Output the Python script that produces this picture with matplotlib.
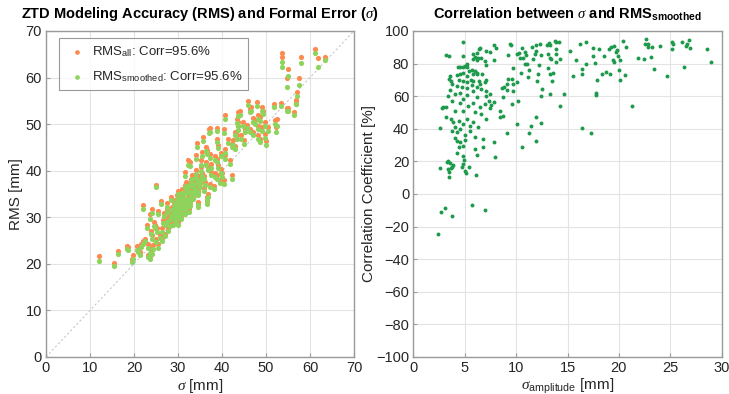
import numpy as np
import matplotlib
matplotlib.use('Agg')
import matplotlib.pyplot as plt

plt.rcParams['font.family'] = ['Liberation Sans', 'DejaVu Sans']
plt.rcParams['mathtext.fontset'] = 'custom'
plt.rcParams['mathtext.rm'] = 'Liberation Sans'
plt.rcParams['mathtext.it'] = 'Liberation Serif:italic'
plt.rcParams['mathtext.bf'] = 'Liberation Sans:bold'

# left panel: formal error sigma vs RMS (all / smoothed), mm
sigma = [12.1, 15.5, 16.4, 18.3, 18.6, 19.6, 19.8, 20.6, 20.8, 21.3, 21.7, 22.1, 22.1, 22.5, 22.9,
         23.2, 23.2, 23.6, 23.6, 23.6, 23.8, 24.0, 24.0, 24.0, 24.4, 24.6, 24.8, 25.1, 25.1, 25.3,
         25.5, 25.5, 25.9, 26.1, 26.3, 26.3, 26.6, 27.0, 27.0, 27.4, 27.4, 27.8, 28.0, 28.2, 28.5,
         28.5, 28.8, 28.9, 29.2, 29.3, 29.3, 29.6, 29.7, 29.8, 30.1, 30.1, 30.1, 30.3, 30.5, 30.6,
         30.8, 30.9, 31.0, 31.2, 31.3, 31.5, 31.6, 31.8, 31.9, 31.9, 32.0, 32.1, 32.3, 32.4, 32.6,
         32.7, 32.7, 32.7, 32.9, 33.1, 33.1, 33.3, 33.5, 33.8, 33.9, 34.0, 34.2, 34.3, 34.4, 34.5,
         34.6, 34.6, 34.6, 34.8, 35.0, 35.2, 35.3, 35.4, 35.7, 36.1, 36.3, 36.3, 36.5, 36.7, 36.7,
         36.9, 36.9, 37.0, 37.2, 37.2, 37.3, 37.6, 37.6, 38.2, 38.4, 38.4, 38.8, 38.8, 38.8, 38.8,
         39.1, 39.1, 39.5, 39.7, 39.7, 40.0, 40.5, 40.5, 40.6, 40.6, 40.6, 41.4, 41.8, 42.2, 42.2,
         42.5, 42.9, 42.9, 43.3, 43.3, 43.7, 43.7, 43.7, 44.1, 44.4, 44.8, 45.0, 45.2, 45.6, 45.9,
         46.3, 46.3, 46.7, 47.1, 47.1, 47.5, 47.9, 48.1, 48.1, 48.2, 48.6, 48.6, 49.0, 49.1, 49.4,
         49.7, 49.7, 50.1, 50.5, 51.9, 52.0, 52.2, 52.4, 53.5, 53.6, 53.6, 54.7, 54.7, 55.0, 55.1,
         56.4, 56.8, 56.9, 57.0, 57.5, 57.9, 61.1, 61.8, 63.4,
         28.3, 28.6, 28.9, 29.1, 29.4, 29.5, 29.9, 30.0, 30.2, 30.4, 30.7, 30.9, 31.1, 31.4, 31.6,
         31.7, 32.2, 32.5, 32.8, 33.0, 33.2, 33.6, 33.7, 34.1, 34.9, 35.5, 35.8, 36.0, 26.9, 27.6]
rms_all = [21.7, 20.2, 22.8, 23.8, 23.6, 21.0, 21.8, 23.8, 23.3, 22.5, 24.3, 32.6, 25.0, 25.4, 28.3,
           24.3, 22.0, 30.8, 23.4, 21.6, 27.0, 31.7, 26.1, 22.9, 24.0, 29.0, 28.3, 36.9, 25.4, 27.6,
           31.3, 24.2, 26.1, 33.4, 27.6, 25.6, 29.5, 28.8, 26.5, 31.8, 29.7, 27.6, 30.2, 28.8, 34.3,
           30.4, 31.8, 29.0, 33.0, 32.6, 30.1, 31.5, 34.8, 30.6, 35.6, 31.1, 29.0, 33.0, 32.0, 30.2,
           32.6, 34.2, 31.2, 35.1, 33.5, 32.3, 39.8, 34.0, 35.8, 37.6, 32.8, 36.5, 42.2, 34.5, 31.8,
           36.1, 33.6, 41.9, 35.2, 35.4, 39.0, 37.0, 34.5, 36.8, 36.5, 40.1, 43.3, 46.0, 38.0, 33.0,
           35.4, 33.3, 36.1, 38.8, 38.3, 42.2, 40.8, 44.1, 47.2, 37.6, 41.9, 45.1, 44.4, 34.3, 33.4,
           40.8, 35.1, 49.0, 37.2, 43.6, 49.2, 41.5, 39.7, 36.8, 43.2, 39.4, 42.6, 49.2, 46.9, 39.0,
           45.6, 41.2, 38.0, 43.9, 40.3, 39.4, 48.9, 37.9, 52.0, 44.7, 43.4, 46.9, 42.2, 45.8, 39.0,
           46.5, 48.4, 45.4, 51.0, 47.6, 52.6, 49.6, 50.4, 52.9, 47.7, 50.4, 46.5, 49.0, 49.9, 54.9,
           53.3, 49.0, 53.6, 51.3, 48.3, 50.8, 54.7, 52.0, 47.6, 49.7, 51.5, 46.9, 53.6, 49.4, 52.9,
           50.4, 47.9, 46.3, 49.4, 54.4, 50.8, 49.3, 51.2, 54.6, 65.2, 64.4, 59.9, 53.4, 53.4, 61.8,
           52.6, 55.0, 55.1, 57.0, 59.8, 64.4, 66.1, 64.2, 64.4,
           31.0, 32.2, 30.7, 31.6, 33.8, 29.5, 32.3, 33.7, 30.9, 34.6, 31.5, 36.0, 33.2, 34.9, 31.3,
           36.9, 34.0, 37.4, 33.0, 38.3, 36.2, 37.7, 35.5, 39.2, 37.3, 39.5, 36.2, 38.9, 31.0, 33.0]
rms_smoothed = [20.6, 19.6, 22.1, 23.1, 22.9, 20.4, 21.0, 23.0, 22.6, 22.0, 23.6, 31.7, 24.2, 24.8, 27.7,
                23.5, 21.5, 29.7, 22.4, 21.1, 26.3, 30.9, 25.4, 22.2, 23.2, 28.2, 27.6, 36.5, 24.7, 26.8,
                30.6, 23.5, 25.5, 32.8, 26.8, 25.0, 28.8, 28.3, 25.9, 31.1, 29.0, 27.0, 29.4, 28.2, 33.6,
                29.7, 31.1, 28.4, 32.4, 31.8, 29.6, 30.9, 34.0, 30.0, 34.9, 30.6, 28.4, 32.4, 31.4, 29.7,
                32.0, 33.6, 30.7, 34.5, 32.9, 31.8, 38.9, 33.4, 35.2, 36.8, 32.2, 35.8, 41.3, 33.9, 31.2,
                35.4, 33.0, 41.1, 34.6, 34.8, 38.3, 36.4, 33.9, 36.1, 35.8, 39.3, 42.5, 45.0, 37.3, 32.2,
                34.7, 32.7, 35.5, 38.0, 37.6, 41.3, 40.0, 43.2, 46.3, 36.9, 41.2, 44.2, 43.6, 33.6, 32.9,
                40.1, 34.4, 48.1, 36.5, 42.8, 48.3, 40.6, 39.0, 36.1, 42.4, 38.6, 41.8, 48.5, 46.1, 38.3,
                44.8, 40.5, 37.3, 43.1, 39.5, 38.7, 48.0, 37.2, 51.2, 43.9, 42.6, 46.0, 41.5, 45.0, 38.3,
                45.6, 47.6, 44.6, 50.2, 46.8, 51.7, 48.8, 49.7, 52.0, 46.9, 49.6, 45.7, 48.3, 49.1, 54.1,
                52.5, 48.2, 52.9, 50.5, 47.6, 50.0, 53.9, 51.2, 46.8, 48.9, 50.7, 46.2, 52.8, 48.6, 52.1,
                49.7, 47.1, 45.6, 48.6, 53.6, 50.1, 48.4, 49.5, 53.8, 63.3, 62.2, 58.0, 52.8, 52.9, 60.3,
                51.9, 54.3, 54.4, 56.0, 58.5, 63.1, 65.3, 62.3, 63.8,
                30.3, 31.5, 30.0, 30.9, 33.0, 28.9, 31.6, 33.0, 30.3, 33.9, 30.8, 35.3, 32.6, 34.2, 30.8,
                36.2, 33.3, 36.7, 32.4, 37.6, 35.5, 37.0, 34.9, 38.5, 36.6, 38.8, 35.6, 38.2, 30.2, 32.3]

# right panel: sigma amplitude [mm] vs correlation coefficient [%]
sig_amp = [2.36, 2.65, 3.07, 3.72, 5.73, 6.96,
           4.85, 3.17, 3.43, 4.85, 5.76, 6.15, 6.4, 6.5, 6.0, 6.3, 6.6, 5.76, 6.15, 7.05, 7.5, 7.8,
           8.0, 7.8, 6.96, 7.05, 4.3, 4.5, 4.8, 5.0, 5.2, 5.2, 5.4, 5.7, 6.0, 5.8, 6.15, 6.2, 4.85,
           4.5, 4.2, 5.2, 3.6, 3.5, 3.8, 3.7, 4.4, 4.85, 5.2, 5.6, 5.8, 6.4, 6.5, 6.96, 7.1, 6.7,
           4.2, 4.7, 5.2, 5.7, 6.15, 6.6, 7.1, 7.05, 7.5, 7.4, 7.8, 7.6, 7.5, 3.6, 3.4, 4.05, 4.5,
           5.2, 5.76, 6.15, 4.85, 3.8, 4.5, 5.3, 5.76, 6.5, 6.96, 2.9, 3.2, 4.05, 4.85, 6.0, 6.6,
           7.05, 3.2, 3.7, 3.9, 4.4, 4.8, 5.2, 5.5, 5.8, 6.3, 4.05, 3.8, 4.27, 4.5, 5.0, 5.5, 6.0,
           6.8, 6.8, 7.8, 2.6, 4.05, 4.2, 4.5, 5.0, 4.85, 4.4, 6.0, 4.2, 6.15, 4.8, 7.9, 4.9, 3.4,
           3.56, 3.9, 4.8, 4.7, 2.6, 3.4, 3.7, 3.5, 5.0, 5.1, 5.4, 6.1, 3.46, 2.75, 3.3, 3.8,
           9.45, 9.5, 9.2, 10.04, 10.3, 10.6, 10.9, 10.7, 10.4, 11.0, 11.5, 11.9, 11.8, 11.6, 11.1,
           10.9, 11.9, 12.3, 12.4, 12.2, 13.0, 13.2, 13.3, 13.8, 13.9, 14.2, 13.1, 13.3, 13.9, 13.9,
           13.9, 13.4, 14.3, 13.1, 13.3, 13.6, 13.5, 12.1, 12.0, 11.3, 11.2, 10.5, 9.65, 10.1, 9.7,
           9.1, 8.8, 8.6, 9.2, 9.55, 9.1, 9.7, 8.7, 9.6, 10.2, 8.4, 8.4, 8.7, 9.1, 10.1, 10.6, 11.3,
           11.4, 11.9, 11.9, 12.4, 12.5, 12.4, 13.3, 14.3, 14.7, 15.2, 15.5, 15.8, 16.2, 16.8, 16.4,
           16.4, 16.8, 17.5, 18.1, 17.5, 17.7, 17.9, 17.8, 17.8, 18.5, 18.7, 18.4, 19.1, 16.4, 17.3,
           19.0, 19.2, 19.5, 19.7, 19.8, 20.4, 20.7, 19.4, 19.5, 19.9, 20.1, 20.0, 20.1, 20.6, 21.3,
           21.9, 22.4, 23.1, 22.6, 22.5, 22.8, 23.2, 22.8, 24.0, 23.4, 24.7, 25.2, 25.3, 25.2, 26.1,
           26.6, 26.8, 26.5, 26.9, 26.3, 28.6, 29.0]
corr_coef = [-24.5, -10.8, -8.6, -13.3, -6.6, -9.8,
             93.3, 85.1, 84.9, 84.5, 86.1, 86.5, 88.8, 89.4, 84.1, 83.7, 83.7, 82.7, 82.0, 87.8, 87.3, 91.4,
             89.4, 82.0, 81.6, 79.0, 77.6, 78.0, 77.6, 78.6, 77.6, 79.6, 75.5, 75.9, 75.5, 73.9, 74.5, 73.5, 74.5,
             73.5, 72.9, 72.4, 72.4, 70.4, 67.3, 69.4, 69.8, 69.4, 68.4, 69.8, 69.4, 69.4, 67.3, 68.4, 69.8, 73.9,
             66.3, 65.7, 65.3, 66.7, 65.7, 64.3, 63.3, 60.2, 61.6, 57.1, 56.7, 54.7, 52.7, 63.7, 60.2, 61.2, 62.2,
             60.8, 63.3, 59.2, 58.2, 57.1, 56.1, 54.1, 56.1, 53.1, 55.1, 53.1, 53.5, 51.0, 51.0, 50.0, 49.0,
             45.9, 47.3, 45.9, 43.9, 44.9, 42.9, 45.9, 41.8, 43.9, 40.8, 40.8, 38.8, 37.8, 39.8, 36.3, 38.8, 34.7,
             33.7, 28.6, 31.6, 40.2, 34.3, 32.7, 31.6, 33.1, 29.6, 28.6, 27.6, 24.9, 24.1, 23.5, 22.4, 20.8, 20.4,
             18.8, 18.0, 18.4, 16.3, 15.7, 15.3, 15.9, 13.3, 14.3, 12.7, 16.3, 11.8, 10.2, 53.0, 19.4, 16.3,
             92.2, 91.2, 85.1, 85.7, 86.5, 89.8, 87.3, 83.7, 83.7, 85.3, 90.2, 87.8, 85.7, 82.7, 80.0,
             79.6, 91.2, 91.8, 85.3, 79.2, 91.4, 92.9, 91.4, 93.9, 93.3, 93.5, 86.1, 83.7, 88.8, 85.7,
             81.2, 82.7, 82.7, 77.1, 73.9, 74.5, 69.4, 73.5, 69.4, 75.9, 71.8, 74.3, 77.1, 68.8, 67.3,
             67.3, 65.7, 65.3, 70.8, 70.8, 63.7, 63.3, 59.2, 55.1, 57.1, 50.6, 47.3, 48.0, 37.1, 42.9, 29.0, 37.1,
             41.8, 47.3, 32.2, 43.3, 64.3, 59.8, 61.6, 54.1, 61.2, 87.8, 72.4, 82.0, 92.2, 93.3, 76.5,
             73.5, 79.6, 89.4, 88.8, 84.7, 80.6, 70.0, 62.2, 60.8, 84.7, 75.1, 73.5, 73.5, 40.4, 37.3,
             88.8, 90.2, 90.6, 87.3, 88.2, 93.7, 90.2, 82.0, 80.8, 84.9, 82.0, 75.9, 70.0, 72.9, 54.1,
             83.7, 82.9, 84.1, 94.9, 91.8, 92.2, 90.4, 90.2, 90.8, 76.5, 72.4, 93.3, 92.2, 88.8, 93.5,
             92.2, 94.5, 90.8, 89.4, 78.2, 88.8, 81.2]

txt = '#262626'
edge = '#9a9a9a'


def style(ax):
    ax.grid(True, color='#e3e3e3', linewidth=0.8)
    ax.set_axisbelow(True)
    for s in ax.spines.values():
        s.set_color(edge)
        s.set_linewidth(1.0)
    ax.tick_params(direction='in', length=3, color=edge, labelcolor=txt, labelsize=10.5, pad=3)


fig = plt.figure(figsize=(7.29, 3.94), dpi=100)
ax1 = fig.add_axes([0.0631, 0.094, 0.4225, 0.8274])
ax2 = fig.add_axes([0.567, 0.094, 0.423, 0.8274])

# left
ax1.plot([0, 70], [0, 70], linestyle=(0, (2, 2)), color='#c8c8c8', linewidth=0.8, zorder=1)
ax1.scatter(sigma, rms_all, s=14, color='#ff8a50', linewidths=0, zorder=2,
            label=r'RMS$_\mathrm{all}$: Corr=95.6%')
ax1.scatter(sigma, rms_smoothed, s=14, color='#8ed45c', linewidths=0, zorder=3,
            label=r'RMS$_\mathrm{smoothed}$: Corr=95.6%')
ax1.set_xlim(0, 70)
ax1.set_ylim(0, 70)
ax1.set_xticks(np.arange(0, 71, 10))
ax1.set_yticks(np.arange(0, 71, 10))
style(ax1)
ax1.set_xlabel(r'$\sigma$ [mm]', fontsize=11, color=txt, labelpad=1)
ax1.set_ylabel('RMS [mm]', fontsize=11, color=txt, labelpad=2)
ax1.set_title(r'ZTD Modeling Accuracy (RMS) and Formal Error ($\sigma$)', fontsize=10.5,
              fontweight='bold', color='black', pad=9)
leg = ax1.legend(loc='upper left', bbox_to_anchor=(0.035, 0.985), fontsize=9.5, frameon=True,
                 fancybox=False, edgecolor='#7f7f7f', markerscale=0.9, handletextpad=0.2,
                 borderpad=0.45, labelspacing=0.75, handlelength=1.8, borderaxespad=0.2)
leg.get_frame().set_linewidth(0.8)
for t in leg.get_texts():
    t.set_color(txt)

# right
ax2.scatter(sig_amp, corr_coef, s=8, color='#1e9a4c', linewidths=0, zorder=2)
ax2.set_xlim(0, 30)
ax2.set_ylim(-100, 100)
ax2.set_xticks(np.arange(0, 31, 5))
ax2.set_yticks(np.arange(-100, 101, 20))
style(ax2)
ax2.set_xlabel(r'$\sigma_\mathrm{amplitude}$ [mm]', fontsize=11, color=txt, labelpad=1)
ax2.set_ylabel('Correlation Coefficient [%]', fontsize=11, color=txt, labelpad=0)
ax2.set_title(r'Correlation between $\sigma$ and RMS$_\mathbf{smoothed}$', fontsize=10.5,
              fontweight='bold', color='black', pad=9)

fig.savefig('out.png', dpi=100, facecolor='white')
